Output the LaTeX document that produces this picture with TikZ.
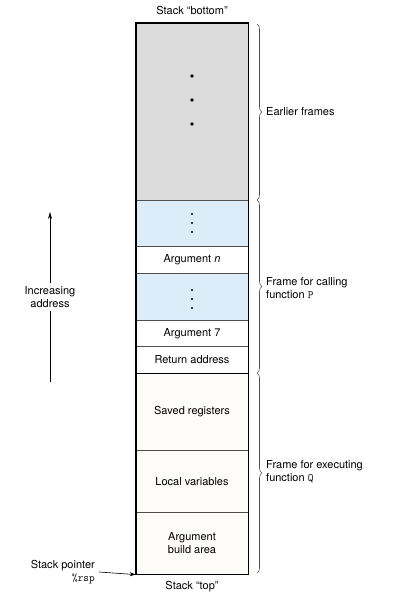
\documentclass[tikz,border=0pt]{standalone}
\usepackage{fontspec}
\setmainfont{TeX Gyre Heros}
\usepackage{tikz}
\usetikzlibrary{arrows.meta,positioning,decorations.pathreplacing}
\definecolor{framegray}{RGB}{220,220,220}
\definecolor{argblue}{RGB}{220,236,248}
\definecolor{qwhite}{RGB}{253,252,249}
\definecolor{rulegray}{RGB}{80,80,80}
\tikzset{
  cell/.style={draw=rulegray, line width=0.6pt, minimum width=112pt, anchor=north, inner sep=0pt, align=center},
  framebrace/.style={decorate, decoration={brace, amplitude=5pt}, draw=rulegray, line width=0.6pt},
  bracelabel/.style={anchor=west, align=left, inner sep=0pt},
  bigdot/.style={fill=black, circle, inner sep=0pt, minimum size=3.6pt},
  smalldot/.style={fill=black, circle, inner sep=0pt, minimum size=2.2pt}
}
\begin{document}
\begin{tikzpicture}[x=1pt, y=-1pt, font=\fontsize{11}{13}\selectfont]
          \useasboundingbox (0,0) rectangle (401,602);

          % stack cells
          \node[cell, fill=framegray, minimum height=177pt] (earlier) at (192,23) {};
          \node[cell, fill=argblue, minimum height=46pt] (argsupper) at (192,200) {};
          \node[cell, fill=white, minimum height=27pt] (argn) at (192,246) {Argument \textit{n}};
          \node[cell, fill=argblue, minimum height=47pt] (argslower) at (192,273) {};
          \node[cell, fill=white, minimum height=26pt] (arg7) at (192,320) {Argument 7};
          \node[cell, fill=white, minimum height=27pt] (retaddr) at (192,346) {Return address};
          \node[cell, fill=qwhite, minimum height=77pt] (saved) at (192,373) {Saved registers};
          \node[cell, fill=qwhite, minimum height=62pt] (locals) at (192,450) {Local variables};
          \node[cell, fill=qwhite, minimum height=62pt] (argbuild) at (192,512) {Argument\\build area};

          \draw[line width=1.6pt] (earlier.north west) rectangle (argbuild.south east);
          \draw[line width=1.6pt] (retaddr.south west) -- (retaddr.south east);

          % dots
          \node[bigdot] (dota) at (192,76) {};
          \node[bigdot] (dotb) at (192,100) {};
          \node[bigdot] (dotc) at (192,124) {};

          \node[smalldot] (udota) at (192,214) {};
          \node[smalldot] (udotb) at (192,223) {};
          \node[smalldot] (udotc) at (192,232) {};

          \node[smalldot] (ldota) at (192,290) {};
          \node[smalldot] (ldotb) at (192,299) {};
          \node[smalldot] (ldotc) at (192,308) {};

          % ends of the stack
          \node (bottom) at (192,10) {Stack “bottom”};
          \node (top) at (192,587) {Stack “top”};

          % braces
          \draw[framebrace] (257,24) -- (257,200);
          \draw[framebrace] (257,200) -- (257,373);
          \draw[framebrace] (257,373) -- (257,573);

          \node[bracelabel] (earlierlbl) at (266,112) {Earlier frames};
          \node[bracelabel] (plbl) at (266,288) {Frame for calling\\function \texttt{P}};
          \node[bracelabel] (qlbl) at (266,472) {Frame for executing\\function \texttt{Q}};

          % address direction
          \coordinate (addrlow) at (50,382);
          \coordinate (addrhigh) at (50,212);
          \draw[-{Stealth[length=7pt,width=4pt]}, line width=0.6pt] (addrlow) -- (addrhigh)
            node[midway, fill=white, align=center, inner sep=3pt] (incr) {Increasing\\address};

          % stack pointer
          \node[anchor=east, align=right, inner sep=0pt] (sp) at (95,572) {Stack pointer\\\texttt{\%rsp}};
          \draw[-{Stealth[length=6pt,width=4pt]}, line width=0.6pt] ([xshift=4pt]sp.east) -- (argbuild.south west);
        \end{tikzpicture}
\end{document}
